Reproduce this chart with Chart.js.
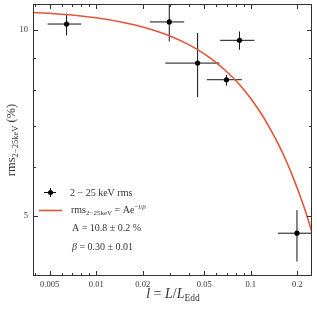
<!DOCTYPE html>
<html><head><meta charset="utf-8">
<script src="https://cdn.jsdelivr.net/npm/chart.js@4"></script>
<style>html,body{margin:0;padding:0;background:#fff;}</style>
</head><body>
<canvas id="c" width="317" height="309"></canvas>
<script>
// Data points (luminosity l = L/L_Edd, fractional rms in %)
const lumX   = [0.00643, 0.0297, 0.0453, 0.0696, 0.0845, 0.199];
const lumXLo = [0.00485, 0.0223, 0.0280, 0.0520, 0.0634, 0.1497];
const lumXHi = [0.00800, 0.0371, 0.0628, 0.0875, 0.1057, 0.2700];
const rmsY   = [10.21, 10.29, 8.83, 8.30, 9.61, 4.69];
const rmsYLo = [9.79, 9.57, 7.78, 8.12, 9.28, 4.22];
const rmsYHi = [10.61, 11.60, 9.88, 8.45, 9.93, 5.11];
// Fitted curve
const fitX = [0.0039, 0.006, 0.01, 0.015, 0.02, 0.03, 0.04, 0.05, 0.06, 0.07, 0.085, 0.1, 0.115, 0.13, 0.15, 0.17, 0.19, 0.21, 0.23, 0.25];
const fitY = [10.66, 10.59, 10.45, 10.27, 10.10, 9.77, 9.45, 9.14, 8.84, 8.55, 8.14, 7.74, 7.36, 7.00, 6.55, 6.13, 5.73, 5.36, 5.02, 4.69];
// Ticks
const xTickLabels = [0.005, 0.01, 0.02, 0.05, 0.1, 0.2];
const xMinorTicks = [0.004, 0.006, 0.007, 0.008, 0.009, 0.03, 0.04, 0.06, 0.07, 0.08, 0.09];
const yTickLabels = [5, 10];
const yMinorTicks = [6, 7, 8, 9];

const SERIF = '"Liberation Serif", "DejaVu Serif", serif';
const TXT = '#333';
const RED = '#e2553b';

function drawParts(ctx, parts, x, y) {
  for (const p of parts) {
    ctx.font = p.f;
    ctx.fillText(p.t, x, y + (p.dy || 0));
    x += ctx.measureText(p.t).width;
  }
  return x;
}
function partsWidth(ctx, parts) {
  let w = 0;
  for (const p of parts) { ctx.font = p.f; w += ctx.measureText(p.t).width; }
  return w;
}

const errorBars = {
  id: 'errorBars',
  beforeDatasetsDraw(chart) {
    const {ctx, chartArea: a, scales: {x, y}} = chart;
    ctx.save();
    ctx.beginPath(); ctx.rect(a.left, a.top, a.right - a.left, a.bottom - a.top); ctx.clip();
    ctx.strokeStyle = '#111'; ctx.lineWidth = 1;
    for (let i = 0; i < lumX.length; i++) {
      const px = x.getPixelForValue(lumX[i]), py = y.getPixelForValue(rmsY[i]);
      ctx.beginPath();
      ctx.moveTo(x.getPixelForValue(lumXLo[i]), py); ctx.lineTo(x.getPixelForValue(lumXHi[i]), py);
      ctx.moveTo(px, y.getPixelForValue(rmsYLo[i])); ctx.lineTo(px, y.getPixelForValue(rmsYHi[i]));
      ctx.stroke();
    }
    ctx.restore();
  }
};

const frame = {
  id: 'frame',
  afterDraw(chart) {
    const {ctx, chartArea: a, scales: {x, y}} = chart;
    ctx.save();
    ctx.strokeStyle = '#333'; ctx.lineWidth = 1;
    ctx.strokeRect(a.left + 0.5, a.top + 0.5, a.right - a.left - 1, a.bottom - a.top - 1);
    ctx.beginPath();
    const tx = (v, len) => {
      const p = Math.round(x.getPixelForValue(v)) + 0.5;
      ctx.moveTo(p, a.bottom); ctx.lineTo(p, a.bottom - len);
      ctx.moveTo(p, a.top); ctx.lineTo(p, a.top + len);
    };
    const ty = (v, len) => {
      const p = Math.round(y.getPixelForValue(v)) + 0.5;
      ctx.moveTo(a.left, p); ctx.lineTo(a.left + len, p);
      ctx.moveTo(a.right, p); ctx.lineTo(a.right - len, p);
    };
    xTickLabels.forEach(v => tx(v, 5));
    xMinorTicks.forEach(v => tx(v, 3));
    yTickLabels.forEach(v => ty(v, 5));
    yMinorTicks.forEach(v => ty(v, 3));
    ctx.stroke();

    ctx.fillStyle = TXT;
    ctx.textBaseline = 'alphabetic';
    ctx.textAlign = 'left';
    // x title: l = L/L_Edd
    const fI = 'italic 14px ' + SERIF, fR = '14px ' + SERIF, fS = '9.5px ' + SERIF;
    const xt = [{t: 'l', f: fI}, {t: ' = ', f: fR}, {t: 'L', f: fI}, {t: '/', f: fR}, {t: 'L', f: fI}, {t: 'Edd', f: fS, dy: 3}];
    const xw = partsWidth(ctx, xt);
    drawParts(ctx, xt, 173 - xw / 2, 297.5);

    // y title: rms_{2-25keV} (%)
    const yt = [{t: 'rms', f: '12.5px ' + SERIF}, {t: '2\u221225keV', f: '8.5px ' + SERIF, dy: 2.5}, {t: ' (%)', f: '12.5px ' + SERIF}];
    const yw = partsWidth(ctx, yt);
    ctx.save();
    ctx.translate(15, 140);
    ctx.rotate(-Math.PI / 2);
    drawParts(ctx, yt, -yw / 2, 0);
    ctx.restore();

    // legend
    const lf = '10px ' + SERIF, lfi = 'italic 10px ' + SERIF, ls = '7px ' + SERIF, lsi = 'italic 7px ' + SERIF;
    // row 1 marker with error bars
    ctx.strokeStyle = '#111'; ctx.lineWidth = 1;
    ctx.beginPath();
    ctx.moveTo(44, 192.5); ctx.lineTo(56, 192.5);
    ctx.moveTo(50.5, 188); ctx.lineTo(50.5, 197);
    ctx.stroke();
    ctx.fillStyle = '#000';
    ctx.beginPath(); ctx.arc(50.5, 192.5, 2.5, 0, Math.PI * 2); ctx.fill();
    ctx.fillStyle = TXT;
    drawParts(ctx, [{t: '2 \u2212 25 keV rms', f: lf}], 70, 196);
    // row 2 red line
    ctx.strokeStyle = RED; ctx.lineWidth = 1.6;
    ctx.beginPath(); ctx.moveTo(39, 210.5); ctx.lineTo(62, 210.5); ctx.stroke();
    drawParts(ctx, [
      {t: 'rms', f: lf}, {t: '2\u221225keV', f: ls, dy: 2}, {t: ' = Ae', f: lf},
      {t: '\u2212', f: ls, dy: -4}, {t: 'l', f: lsi, dy: -4}, {t: '/', f: ls, dy: -4}, {t: '\u03B2', f: lsi, dy: -4}
    ], 71, 213);
    drawParts(ctx, [{t: 'A = 10.8 \u00B1 0.2 %', f: lf}], 72, 231);
    drawParts(ctx, [{t: '\u03B2', f: lfi}, {t: ' = 0.30 \u00B1 0.01', f: lf}], 72, 249.5);
    ctx.restore();
  }
};

new Chart(document.getElementById('c'), {
  type: 'scatter',
  data: {
    datasets: [
      {
        label: 'fit',
        data: fitX.map((v, i) => ({x: v, y: fitY[i]})),
        showLine: true, borderColor: RED, borderWidth: 1.6, pointRadius: 0,
        cubicInterpolationMode: 'monotone', fill: false, order: 2
      },
      {
        label: '2 \u2212 25 keV rms',
        data: lumX.map((v, i) => ({x: v, y: rmsY[i]})),
        pointRadius: 2.6, pointBackgroundColor: '#000', pointBorderWidth: 0, order: 1
      }
    ]
  },
  options: {
    responsive: false, animation: false, devicePixelRatio: 1,
    layout: {padding: {left: 0, right: 5, top: 4, bottom: 0}},
    plugins: {legend: {display: false}, tooltip: {enabled: false}},
    scales: {
      x: {
        type: 'logarithmic', min: 0.0039, max: 0.249,
        afterBuildTicks: s => { s.ticks = xTickLabels.map(v => ({value: v})); },
        afterFit: s => { s.height = 33; s.paddingLeft = 0; s.paddingRight = 0; },
        ticks: {callback: v => String(v), autoSkip: false, maxRotation: 0, padding: 4,
                color: TXT, font: {family: SERIF, size: 8.5}},
        grid: {display: false, drawTicks: false}, border: {display: false}
      },
      y: {
        type: 'logarithmic', min: 4, max: 11,
        afterBuildTicks: s => { s.ticks = yTickLabels.map(v => ({value: v})); },
        afterFit: s => { s.width = 33; s.paddingTop = 0; s.paddingBottom = 0; },
        ticks: {callback: v => String(v), autoSkip: false, padding: 5,
                color: TXT, font: {family: SERIF, size: 8.5}},
        grid: {display: false, drawTicks: false}, border: {display: false}
      }
    }
  },
  plugins: [errorBars, frame]
});
</script>
</body></html>
